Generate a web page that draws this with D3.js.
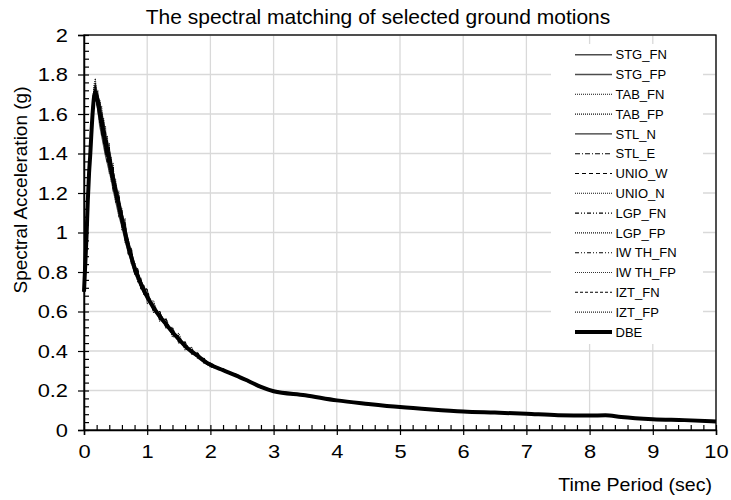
<!DOCTYPE html>
<html><head><meta charset="utf-8">
<script src="https://cdn.jsdelivr.net/npm/d3@7"></script>
<style>
body{margin:0;background:#fff;}
text{font-family:"Liberation Sans",Arial,sans-serif;fill:#000;}
</style></head>
<body><svg id="chart" width="731" height="500"></svg>
<script>
const periods = [0,0.02,0.04,0.06,0.08,0.10,0.12,0.14,0.16,0.18,0.20,0.22,
  0.25,0.28,0.31,0.34,0.37,0.40,0.43,0.46,
  0.50,0.55,0.60,0.65,0.70,0.75,0.80,0.85,0.90,0.95,
  1.0,1.1,1.2,1.3,1.4,1.5,1.6,1.7,1.8,1.9,2.0,
  2.2,2.4,2.6,2.8,3.0,
  3.5,4.0,4.5,5.0,5.5,6.0,6.5,7.0,7.5,8.0,8.25,8.5,9.0,9.5,10.0];

const DBE = [0.70,0.84,0.98,1.16,1.30,1.40,1.52,1.62,1.69,1.71,1.69,1.66,
  1.60,1.55,1.50,1.45,1.41,1.37,1.32,1.27,
  1.21,1.14,1.07,1.00,0.93,0.875,0.82,0.78,0.74,0.705,
  0.675,0.62,0.575,0.535,0.495,0.46,0.425,0.398,0.375,0.35,0.33,
  0.303,0.277,0.248,0.218,0.196,
  0.176,0.150,0.132,0.116,0.104,0.094,0.088,0.082,0.075,0.073,0.075,0.066,0.055,0.050,0.043];

const STG_FN = [0.70,0.86,1.01,1.19,1.33,1.43,1.56,1.66,1.73,1.75,1.72,1.69,
  1.66,1.61,1.56,1.50,1.46,1.42,1.37,1.31,
  1.25,1.18,1.10,1.03,0.96,0.90,0.84,0.80,0.755,0.72,
  0.68,0.63,0.58,0.54,0.50,0.465,0.43,0.40,0.378,0.353,0.333,
  0.305,0.28,0.25,0.22,0.197,
  0.177,0.151,0.133,0.117,0.105,0.095,0.088,0.082,0.076,0.073,0.075,0.066,0.056,0.050,0.043];
const STG_FP = [0.70,0.82,0.96,1.14,1.28,1.38,1.49,1.59,1.66,1.68,1.66,1.62,
  1.54,1.49,1.44,1.39,1.35,1.31,1.27,1.22,
  1.16,1.09,1.03,0.96,0.90,0.85,0.795,0.76,0.725,0.69,
  0.665,0.61,0.568,0.528,0.49,0.455,0.42,0.394,0.37,0.347,0.327,
  0.30,0.274,0.245,0.215,0.194,
  0.175,0.149,0.131,0.115,0.103,0.093,0.087,0.081,0.074,0.072,0.074,0.065,0.054,0.049,0.042];
const TAB_FN = [0.70,0.85,0.99,1.18,1.34,1.42,1.55,1.66,1.75,1.78,1.70,1.72,
  1.62,1.64,1.46,1.54,1.36,1.45,1.26,1.35,
  1.15,1.21,1.01,1.07,0.89,0.92,0.79,0.82,0.715,0.735,
  0.64,0.655,0.55,0.565,0.47,0.49,0.405,0.42,0.36,0.365,0.318,
  0.308,0.271,0.253,0.213,0.199,
  0.178,0.148,0.134,0.114,0.106,0.093,0.089,0.081,0.076,0.072,0.076,0.065,0.056,0.049,0.044];
const TAB_FP = [0.70,0.83,0.97,1.15,1.29,1.41,1.50,1.63,1.70,1.73,1.65,1.64,
  1.67,1.49,1.58,1.39,1.49,1.30,1.38,1.21,
  1.27,1.08,1.12,0.95,0.97,0.84,0.85,0.75,0.77,0.685,
  0.71,0.595,0.60,0.515,0.52,0.44,0.445,0.385,0.39,0.338,0.342,
  0.298,0.282,0.243,0.223,0.192,
  0.174,0.152,0.130,0.118,0.103,0.095,0.087,0.083,0.074,0.074,0.074,0.067,0.054,0.051,0.042];
const STL_N = [0.70,0.84,0.98,1.17,1.31,1.41,1.53,1.63,1.70,1.72,1.70,1.67,
  1.61,1.56,1.51,1.46,1.42,1.38,1.33,1.28,
  1.22,1.15,1.08,1.01,0.935,0.88,0.825,0.785,0.745,0.71,
  0.678,0.623,0.577,0.537,0.497,0.462,0.427,0.40,0.377,0.352,0.332,
  0.305,0.279,0.25,0.22,0.197,
  0.176,0.150,0.132,0.116,0.104,0.094,0.088,0.082,0.075,0.073,0.075,0.066,0.055,0.050,0.043];
const STL_E = [0.70,0.85,0.97,1.17,1.29,1.43,1.51,1.65,1.68,1.74,1.66,1.63,
  1.65,1.50,1.56,1.40,1.47,1.32,1.37,1.22,
  1.21,1.17,1.03,1.04,0.90,0.91,0.79,0.81,0.715,0.725,
  0.655,0.645,0.555,0.56,0.48,0.478,0.41,0.415,0.365,0.362,0.322,
  0.31,0.272,0.254,0.214,0.20,
  0.173,0.153,0.130,0.118,0.102,0.096,0.086,0.084,0.073,0.075,0.073,0.068,0.054,0.051,0.042];
const UNIO_W = [0.70,0.83,0.99,1.15,1.31,1.39,1.54,1.60,1.71,1.70,1.71,1.64,
  1.56,1.61,1.45,1.51,1.36,1.43,1.28,1.33,
  1.18,1.19,1.04,1.05,0.90,0.91,0.80,0.81,0.725,0.725,
  0.69,0.61,0.585,0.525,0.505,0.45,0.435,0.39,0.383,0.345,0.335,
  0.298,0.283,0.244,0.222,0.193,
  0.179,0.148,0.134,0.114,0.106,0.092,0.090,0.080,0.077,0.071,0.077,0.064,0.057,0.048,0.044];
const UNIO_N = [0.70,0.84,0.98,1.16,1.32,1.40,1.53,1.64,1.72,1.76,1.67,1.68,
  1.57,1.60,1.46,1.50,1.37,1.42,1.29,1.31,
  1.19,1.16,1.05,1.03,0.91,0.90,0.805,0.80,0.725,0.72,
  0.67,0.625,0.57,0.54,0.49,0.465,0.42,0.40,0.37,0.354,0.326,
  0.307,0.274,0.251,0.215,0.198,
  0.175,0.151,0.131,0.117,0.103,0.095,0.087,0.083,0.074,0.074,0.074,0.067,0.055,0.050,0.043];
const LGP_FN = [0.70,0.85,1.00,1.17,1.30,1.42,1.51,1.63,1.67,1.71,1.69,1.69,
  1.55,1.59,1.54,1.41,1.46,1.33,1.36,1.23,
  1.24,1.11,1.10,0.97,0.96,0.85,0.835,0.765,0.755,0.69,
  0.685,0.615,0.58,0.53,0.50,0.455,0.43,0.395,0.38,0.347,0.334,
  0.30,0.28,0.246,0.221,0.194,
  0.177,0.149,0.133,0.115,0.105,0.093,0.089,0.081,0.076,0.072,0.076,0.065,0.056,0.049,0.044];
const LGP_FP = [0.70,0.83,0.97,1.15,1.28,1.39,1.52,1.61,1.70,1.72,1.70,1.65,
  1.63,1.52,1.53,1.42,1.44,1.34,1.35,1.24,
  1.23,1.12,1.09,0.98,0.95,0.86,0.835,0.77,0.755,0.695,
  0.665,0.625,0.57,0.54,0.49,0.465,0.42,0.40,0.37,0.353,0.328,
  0.306,0.275,0.25,0.216,0.198,
  0.175,0.151,0.131,0.117,0.103,0.095,0.087,0.083,0.074,0.074,0.074,0.067,0.054,0.051,0.042];
const IWTH_FN = [0.70,0.84,0.98,1.18,1.31,1.40,1.54,1.62,1.69,1.74,1.67,1.67,
  1.59,1.52,1.57,1.40,1.45,1.32,1.37,1.22,
  1.25,1.10,1.11,0.96,0.96,0.84,0.845,0.755,0.765,0.685,
  0.70,0.60,0.595,0.52,0.515,0.445,0.44,0.388,0.388,0.34,0.34,
  0.298,0.281,0.244,0.222,0.199,
  0.174,0.152,0.130,0.118,0.102,0.096,0.086,0.084,0.073,0.075,0.073,0.068,0.054,0.051,0.042];
const IWTH_FP = [0.70,0.85,0.99,1.16,1.30,1.41,1.52,1.62,1.68,1.70,1.70,1.65,
  1.62,1.58,1.47,1.48,1.38,1.40,1.29,1.30,
  1.18,1.17,1.04,1.03,0.91,0.895,0.805,0.795,0.725,0.715,
  0.685,0.615,0.58,0.53,0.50,0.455,0.43,0.395,0.38,0.346,0.326,
  0.306,0.274,0.251,0.215,0.193,
  0.178,0.149,0.133,0.115,0.105,0.093,0.089,0.081,0.076,0.072,0.076,0.065,0.056,0.049,0.044];
const IZT_FN = [0.70,0.84,0.97,1.16,1.29,1.42,1.50,1.64,1.68,1.73,1.66,1.66,
  1.66,1.51,1.48,1.48,1.35,1.43,1.28,1.33,
  1.17,1.18,1.03,1.05,0.89,0.92,0.79,0.81,0.715,0.725,
  0.71,0.60,0.60,0.515,0.515,0.445,0.445,0.385,0.39,0.34,0.322,
  0.302,0.276,0.247,0.223,0.192,
  0.179,0.148,0.134,0.114,0.106,0.092,0.090,0.080,0.077,0.071,0.077,0.064,0.057,0.048,0.044];
const IZT_FP = [0.70,0.83,0.98,1.17,1.32,1.39,1.53,1.62,1.70,1.71,1.70,1.66,
  1.59,1.56,1.49,1.46,1.40,1.38,1.31,1.28,
  1.21,1.14,1.07,1.00,0.93,0.875,0.82,0.78,0.74,0.705,
  0.675,0.62,0.575,0.535,0.495,0.46,0.425,0.398,0.375,0.35,0.33,
  0.303,0.277,0.248,0.218,0.196,
  0.176,0.150,0.132,0.116,0.104,0.094,0.088,0.082,0.075,0.073,0.075,0.066,0.055,0.050,0.043];

const seriesNames = ["STG_FN","STG_FP","TAB_FN","TAB_FP","STL_N","STL_E","UNIO_W","UNIO_N","LGP_FN","LGP_FP","IW TH_FN","IW TH_FP","IZT_FN","IZT_FP","DBE"];
const seriesValues = [STG_FN,STG_FP,TAB_FN,TAB_FP,STL_N,STL_E,UNIO_W,UNIO_N,LGP_FN,LGP_FP,IWTH_FN,IWTH_FP,IZT_FN,IZT_FP,DBE];

const xTicks = [0,1,2,3,4,5,6,7,8,9,10];
const yTicks = [0,0.2,0.4,0.6,0.8,1,1.2,1.4,1.6,1.8,2];
const yTickLabels = ["0","0.2","0.4","0.6","0.8","1","1.2","1.4","1.6","1.8","2"];

const styles = [
  {c:"#4d4d4d",w:1.4,d:null},
  {c:"#4d4d4d",w:1.4,d:null},
  {c:"#111",w:1.1,d:"1,1"},
  {c:"#111",w:1.1,d:"1,1"},
  {c:"#333",w:1.3,d:null},
  {c:"#000",w:1.1,d:"5,2,1,2"},
  {c:"#000",w:1.2,d:"4,3"},
  {c:"#111",w:1.1,d:"1,1"},
  {c:"#000",w:1.1,d:"4,2,1,2,1,2"},
  {c:"#111",w:1.1,d:"1,1"},
  {c:"#000",w:1.1,d:"4,2,1,2,1,2"},
  {c:"#333",w:1.1,d:"1,1"},
  {c:"#000",w:1.1,d:"3,2"},
  {c:"#222",w:1.1,d:"1,1"},
  {c:"#000",w:4,d:null}
];

const L=84,R=716,T=35,B=430;
const svg=d3.select("#chart");
const x=d3.scaleLinear().domain([0,10]).range([L,R]);
const y=d3.scaleLinear().domain([0,2]).range([B,T]);

// grid
svg.append("g").selectAll("line").data(yTicks.slice(1)).join("line")
  .attr("x1",L).attr("x2",R).attr("y1",d=>y(d)).attr("y2",d=>y(d))
  .attr("stroke","#d9d9d9").attr("stroke-width",1.3);
svg.append("g").selectAll("line").data(xTicks.slice(1)).join("line")
  .attr("x1",d=>x(d)).attr("x2",d=>x(d)).attr("y1",T).attr("y2",B)
  .attr("stroke","#d9d9d9").attr("stroke-width",1.3);

// series
const lineLin=d3.line().x(d=>x(d[0])).y(d=>y(d[1])).curve(d3.curveLinear);
const lineSmooth=d3.line().x(d=>x(d[0])).y(d=>y(d[1])).curve(d3.curveMonotoneX);
seriesValues.forEach((vals,i)=>{
  const pts=periods.map((p,j)=>[p,vals[j]]).filter(d=>d[1]!=null);
  const st=styles[i];
  svg.append("path")
    .attr("d", i===14 ? lineSmooth(pts) : lineLin(pts))
    .attr("fill","none").attr("stroke",st.c).attr("stroke-width",st.w)
    .attr("stroke-dasharray",st.d).attr("stroke-linejoin","round");
});

// legend
const lg=svg.append("g");
lg.append("rect").attr("x",551).attr("y",44).attr("width",152).attr("height",300).attr("fill","#fff");
seriesNames.forEach((n,i)=>{
  const yy=54.7+i*19.8, st=styles[i];
  lg.append("line").attr("x1",575).attr("x2",612).attr("y1",yy).attr("y2",yy)
    .attr("stroke",st.c).attr("stroke-width",st.w).attr("stroke-dasharray",st.d);
  lg.append("text").attr("x",615.5).attr("y",yy+4.6).attr("font-size",13).text(n);
});

// frame
svg.append("rect").attr("x",L).attr("y",T).attr("width",R-L).attr("height",B-T)
  .attr("fill","none").attr("stroke","#000").attr("stroke-width",1.3);

function widen(sel,f){
  sel.each(function(){
    const w=this.getComputedTextLength();
    d3.select(this).attr("textLength",w*f).attr("lengthAdjust","spacingAndGlyphs");
  });
}

// axes
const minorY=d3.range(0,51).map(k=>k*0.04);
const minorX=d3.range(0,51).map(k=>k*0.2);
svg.append("g").attr("transform",`translate(${L},0)`)
  .call(d3.axisRight(y).tickValues(minorY).tickSize(5).tickFormat(""))
  .call(g=>{g.select(".domain").remove();g.selectAll("line").attr("stroke-width",1.2);});
svg.append("g").attr("transform",`translate(0,${B})`)
  .call(d3.axisTop(x).tickValues(minorX).tickSize(5).tickFormat(""))
  .call(g=>{g.select(".domain").remove();g.selectAll("line").attr("stroke-width",1.2);});
svg.append("g").attr("transform",`translate(${L},0)`)
  .call(d3.axisLeft(y).tickValues(yTicks).tickSize(6).tickPadding(10).tickFormat((d,i)=>yTickLabels[i]))
  .call(g=>{g.select(".domain").attr("stroke-width",1.5);g.selectAll("line").attr("stroke-width",1.2);
    g.selectAll("text").attr("font-size",19).attr("font-family","Liberation Sans, Arial, sans-serif");
    widen(g.selectAll("text"),1.15);});
svg.append("g").attr("transform",`translate(0,${B})`)
  .call(d3.axisBottom(x).tickValues(xTicks).tickSize(5).tickPadding(10).tickFormat(d3.format("d")))
  .call(g=>{g.select(".domain").attr("stroke-width",1.5);g.selectAll("line").attr("stroke-width",1.2);
    g.selectAll("text").attr("font-size",19).attr("font-family","Liberation Sans, Arial, sans-serif");
    widen(g.selectAll("text"),1.15);});

// titles
svg.append("text").attr("x",378).attr("y",24).attr("text-anchor","middle").attr("font-size",21)
  .text("The spectral matching of selected ground motions");
svg.append("text").attr("transform","translate(27,190) rotate(-90)").attr("text-anchor","middle").attr("font-size",19)
  .text("Spectral Acceleration (g)");
svg.append("text").attr("x",712).attr("y",491).attr("text-anchor","end").attr("font-size",19)
  .text("Time Period (sec)").call(widen,1.03);
</script></body></html>
